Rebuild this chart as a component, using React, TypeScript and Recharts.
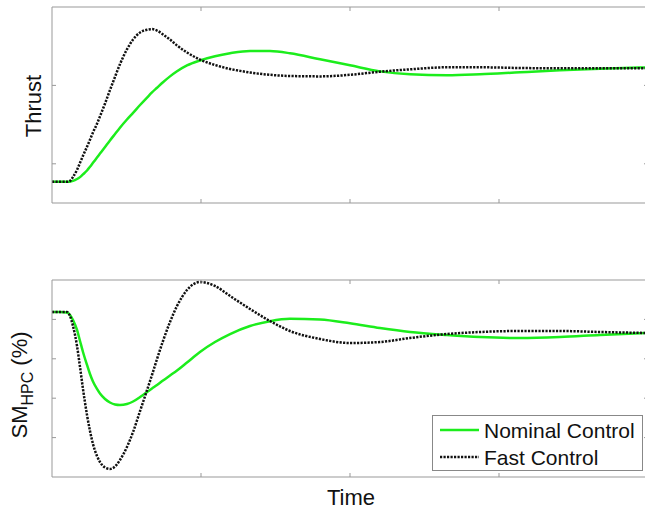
import React from "react"
import { LineChart, Line, XAxis, YAxis, Legend } from "recharts"

// time samples (same grid for both panels)
const time = [0, 0.054, 0.101, 0.121, 0.141, 0.168, 0.188, 0.208, 0.235, 0.255, 0.275, 0.302, 0.322, 0.356, 0.389, 0.423, 0.456, 0.503, 0.544, 0.591, 0.638, 0.671, 0.705, 0.745, 0.792, 0.839, 0.906, 0.993, 1.094, 1.195, 1.329, 1.463, 1.597, 1.799, 2.0, 2.201, 2.403, 2.651, 2.872, 3.141, 3.409, 3.678, 4.0]

const thrustNominal = [0.77, 0.77, 0.77, 0.772, 0.782, 0.806, 0.83, 0.865, 0.915, 0.962, 1.012, 1.08, 1.13, 1.215, 1.298, 1.38, 1.46, 1.565, 1.65, 1.75, 1.845, 1.91, 1.97, 2.04, 2.115, 2.18, 2.255, 2.318, 2.372, 2.41, 2.44, 2.438, 2.41, 2.333, 2.256, 2.179, 2.141, 2.128, 2.141, 2.167, 2.192, 2.212, 2.231]
const thrustFast = [0.77, 0.77, 0.77, 0.782, 0.833, 0.923, 1.013, 1.103, 1.218, 1.308, 1.4, 1.51, 1.605, 1.77, 1.94, 2.11, 2.27, 2.46, 2.585, 2.675, 2.71, 2.718, 2.7, 2.65, 2.585, 2.51, 2.42, 2.33, 2.26, 2.21, 2.165, 2.135, 2.12, 2.115, 2.135, 2.175, 2.205, 2.231, 2.231, 2.222, 2.218, 2.218, 2.218]

const smNominal = [4.188, 4.188, 4.175, 4.112, 3.985, 3.731, 3.452, 3.173, 2.843, 2.614, 2.424, 2.234, 2.119, 1.98, 1.891, 1.84, 1.827, 1.853, 1.916, 2.03, 2.157, 2.246, 2.335, 2.449, 2.576, 2.703, 2.906, 3.173, 3.426, 3.629, 3.832, 3.955, 4.015, 3.995, 3.9, 3.78, 3.68, 3.604, 3.553, 3.528, 3.553, 3.604, 3.655]
const smFast = [4.188, 4.188, 4.188, 4.086, 3.832, 3.325, 2.792, 2.234, 1.574, 1.168, 0.838, 0.533, 0.381, 0.241, 0.203, 0.266, 0.431, 0.761, 1.142, 1.675, 2.208, 2.589, 2.995, 3.452, 3.934, 4.34, 4.746, 4.949, 4.848, 4.594, 4.264, 3.959, 3.706, 3.503, 3.401, 3.426, 3.528, 3.629, 3.68, 3.706, 3.706, 3.68, 3.655]

const xTicks = [1, 2, 3]
const thrustTicks = [1, 2]
const smTicks = [1, 2, 3, 4]

const GREEN = "#1ced1c"
const DOT = "#111"
const AXIS = "#999"
const FONT = "'Liberation Sans', Arial, sans-serif"

const thrustData = time.map((t, i) => ({ t, nominal: thrustNominal[i], fast: thrustFast[i] }))
const smData = time.map((t, i) => ({ t, nominal: smNominal[i], fast: smFast[i] }))

const noTick = () => <g />

function LegendBox() {
  return (
    <svg width={212} height={57} style={{ display: "block" }}>
      <rect x={0.5} y={0.5} width={210} height={55} fill="#fff" stroke="#888" />
      <line x1={8} x2={47} y1={15} y2={15} stroke={GREEN} strokeWidth={2.5} />
      <text x={52} y={23} fontSize={21} fontFamily={FONT} fill="#111">Nominal Control</text>
      <line x1={8} x2={47} y1={42} y2={42} stroke={DOT} strokeWidth={2.5} strokeDasharray="2.2 1.3" />
      <text x={52} y={49.5} fontSize={21} fontFamily={FONT} fill="#111">Fast Control</text>
    </svg>
  )
}

// box axes: ticks drawn inward on all four sides, no tick labels
function frame(yDomain: number[], yTicks: number[]) {
  return [
    <XAxis key="xt" xAxisId="top" orientation="top" dataKey="t" type="number" domain={[0, 4]} ticks={xTicks} height={1} tickSize={-4} tick={noTick} stroke={AXIS} allowDataOverflow />,
    <YAxis key="yr" yAxisId="right" orientation="right" type="number" domain={yDomain} ticks={yTicks} width={1} tickSize={-4} tick={noTick} stroke={AXIS} allowDataOverflow />,
  ]
}

export default function App() {
  return (
    <div style={{ position: "absolute", left: 0, top: 0, width: 645, height: 511, overflow: "hidden", background: "#fff", fontFamily: FONT }}>
      <div style={{ position: "absolute", left: 0, top: 0 }}>
        <LineChart width={660} height={215} data={thrustData} margin={{ top: 6, right: 11, left: 0, bottom: 11 }}>
          <XAxis dataKey="t" type="number" domain={[0, 4]} ticks={xTicks} height={1} tickSize={-4} tick={noTick} stroke={AXIS} />
          <YAxis
            type="number"
            domain={[0.5, 3]}
            ticks={thrustTicks}
            width={52}
            tickSize={-4}
            tick={noTick}
            stroke={AXIS}
            label={() => (
              <text x={41} y={106} transform="rotate(-90 41 106)" textAnchor="middle" fontSize={22} fontFamily={FONT} fill="#111">Thrust</text>
            )}
          />
          {frame([0.5, 3], thrustTicks)}
          <Line xAxisId="top" yAxisId="right" dataKey="fast" stroke="none" dot={false} legendType="none" isAnimationActive={false} />
          <Line type="monotone" dataKey="nominal" stroke={GREEN} strokeWidth={2.5} dot={false} isAnimationActive={false} />
          <Line type="monotone" dataKey="fast" stroke={DOT} strokeWidth={2.5} strokeDasharray="2.2 1.3" dot={false} isAnimationActive={false} />
        </LineChart>
      </div>
      <div style={{ position: "absolute", left: 0, top: 265 }}>
        <LineChart width={660} height={246} data={smData} margin={{ top: 14, right: 11, left: 0, bottom: 33 }}>
          <XAxis
            dataKey="t"
            type="number"
            domain={[0, 4]}
            ticks={xTicks}
            height={1}
            tickSize={-4}
            tick={noTick}
            stroke={AXIS}
            label={() => (
              <text x={351} y={240} textAnchor="middle" fontSize={22} fontFamily={FONT} fill="#111">Time</text>
            )}
          />
          <YAxis
            type="number"
            domain={[0, 5]}
            ticks={smTicks}
            width={52}
            tickSize={-4}
            tick={noTick}
            stroke={AXIS}
            label={() => (
              <text x={27} y={120} transform="rotate(-90 27 120)" textAnchor="middle" fontFamily={FONT} fill="#111">
                <tspan fontSize={22}>SM</tspan>
                <tspan fontSize={16} dy={6}>HPC</tspan>
                <tspan fontSize={22} dy={-6}> (%)</tspan>
              </text>
            )}
          />
          {frame([0, 5], smTicks)}
          <Line xAxisId="top" yAxisId="right" dataKey="fast" stroke="none" dot={false} legendType="none" isAnimationActive={false} />
          <Line type="monotone" dataKey="nominal" stroke={GREEN} strokeWidth={2.5} dot={false} isAnimationActive={false} />
          <Line type="monotone" dataKey="fast" stroke={DOT} strokeWidth={2.5} strokeDasharray="2.2 1.3" dot={false} isAnimationActive={false} />
          <Legend
            layout="horizontal"
            verticalAlign="middle"
            align="center"
            wrapperStyle={{ left: 432, top: 150, width: 212, height: 57 }}
            content={() => <LegendBox />}
          />
        </LineChart>
      </div>
    </div>
  )
}
